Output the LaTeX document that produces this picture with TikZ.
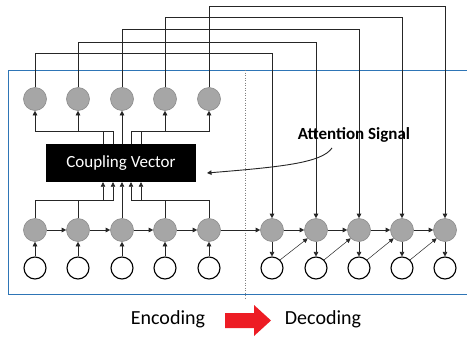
\documentclass[tikz,border=0pt]{standalone}
\usepackage{fontspec}
\setmainfont{Carlito}
\usetikzlibrary{arrows.meta,calc}
\definecolor{nodegray}{RGB}{166,166,166}
\definecolor{nodeedge}{RGB}{140,140,140}
\definecolor{frameblue}{RGB}{46,117,182}
\definecolor{arrred}{RGB}{237,28,36}
\begin{document}
\begin{tikzpicture}[x=1pt,y=-1pt,
 hid/.style={circle,fill=nodegray,draw=nodeedge,line width=0.6pt,minimum size=23pt,inner sep=0pt},
 inp/.style={circle,fill=white,draw=black,line width=1.1pt,minimum size=22pt,inner sep=0pt},
 arr/.style={-{Triangle[length=4.5pt,width=4.5pt]},line width=0.6pt,draw=black!85},
 ln/.style={line width=0.6pt,draw=black!85}]
\useasboundingbox (0,0) rectangle (467,338);
\fill[white] (0,0) rectangle (467,338);
% frame and separator
\draw[frameblue, line width=0.9pt] (467,70) -- (8,70) -- (8,294) -- (467,294);
\draw[gray, dash pattern=on 1pt off 1.5pt, line width=0.6pt] (245,70) -- (245,300);
% encoder
\foreach \i/\x in {1/35,2/78,3/122,4/165,5/209} {
  \node[hid] (t\i) at (\x,99) {};
  \node[hid] (g\i) at (\x,230) {};
  \node[inp] (w\i) at (\x,268) {};
  \draw[arr] (w\i.north) -- (g\i.south);
}
% decoder
\foreach \i/\x in {1/272,2/316,3/359,4/402,5/445} {
  \node[hid] (d\i) at (\x,230) {};
  \node[inp] (o\i) at (\x,268) {};
  \draw[arr] (d\i.south) -- (o\i.north);
}
% chains
\draw[arr] (g1.east) -- (g2.west);
\draw[arr] (g2.east) -- (g3.west);
\draw[arr] (g3.east) -- (g4.west);
\draw[arr] (g4.east) -- (g5.west);
\draw[arr] (g5.east) -- (d1.west);
\draw[arr] (d1.east) -- (d2.west);
\draw[arr] (d2.east) -- (d3.west);
\draw[arr] (d3.east) -- (d4.west);
\draw[arr] (d4.east) -- (d5.west);
\foreach \a/\b in {1/2,2/3,3/4,4/5} {
  \draw[arr, line width=0.5pt] (o\a.45) -- (d\b.225);
}
% coupling vector
\node[fill=black, text=white, minimum width=150pt, minimum height=38pt, inner sep=0pt,
      font=\fontsize{17}{20}\selectfont] (cv) at (121,163) {Coupling Vector};
\foreach \i/\x in {1/103,2/113,3/122,4/131,5/141} {
  \coordinate (bb\i) at (\x,200);
  \coordinate (tt\i) at (\x,131);
}
\draw[arr] (g1.north) |- (bb1) -- (bb1 |- cv.south);
\draw[arr] (g2.north) |- (bb2) -- (bb2 |- cv.south);
\draw[arr] (g3.north) -- (bb3 |- cv.south);
\draw[arr] (g4.north) |- (bb4) -- (bb4 |- cv.south);
\draw[arr] (g5.north) |- (bb5) -- (bb5 |- cv.south);
\draw[arr] (tt2 |- cv.north) -- (tt2) -| (t1.south);
\draw[arr] (tt1 |- cv.north) -- (tt1) -| (t2.south);
\draw[arr] (tt3 |- cv.north) -- (t3.south);
\draw[arr] (tt5 |- cv.north) -- (tt5) -| (t4.south);
\draw[arr] (tt4 |- cv.north) -- (tt4) -| (t5.south);
% long connections to decoder
\foreach \i/\y in {1/53,2/42,3/29,4/17,5/6} {
  \coordinate (h\i) at (0,\y);
  \draw[arr] (t\i.north) -- (t\i.north |- h\i) -| (d\i.north);
}
% attention signal
\node[font=\bfseries\fontsize{17}{20}\selectfont] (att) at (354,135) {Attention Signal};
\coordinate (atip) at (207,173);
\draw[arr, line width=0.9pt] ($(att.south)+(-22,2)$) .. controls (322,163) and (280,167) .. (atip);
% bottom legend
\node[font=\fontsize{20}{24}\selectfont] (enc) at (168,319) {Encoding};
\node[font=\fontsize{20}{24}\selectfont] (dec) at (323,319) {Decoding};
\fill[arrred] (225,313) -- (254,313) -- (254,305) -- (271,320.5) -- (254,336) -- (254,328) -- (225,328) -- cycle;
\end{tikzpicture}
\end{document}
